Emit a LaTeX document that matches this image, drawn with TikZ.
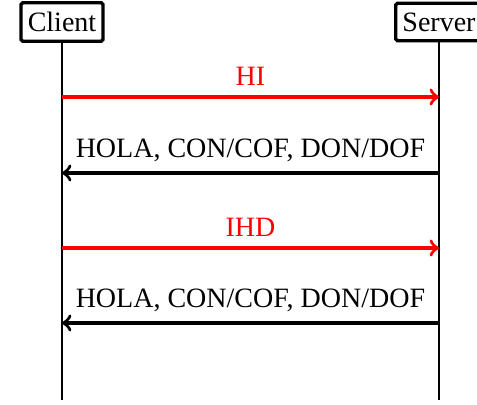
\documentclass[tikz,border=0pt]{standalone}
\usepackage{fontspec}
\setmainfont{Liberation Serif}

\begin{document}
\begin{tikzpicture}[x=0.357pt, y=-0.357pt,
    actor/.style={draw, very thick, rounded corners=0.6pt, inner xsep=2.4pt, minimum height=13.4pt},
    vida/.style={black, semithick},
    msg/.style={very thick, ->},
    etiq/.style={midway, above}]
    \useasboundingbox (0,0) rectangle (477,405);

    % Participantes
    \node[actor] (client) at (62,22) {Client};
    \node[actor] (server) at (439,22) {Server};

    % Líneas de vida
    \coordinate (clientfin) at (62,400);
    \coordinate (serverfin) at (439,400);
    \draw[vida] (client) -- (clientfin);
    \draw[vida] (server) -- (serverfin);

    % Puntos de los mensajes
    \coordinate (c1) at (62,97);  \coordinate (s1) at (439,97);
    \coordinate (c2) at (62,173); \coordinate (s2) at (439,173);
    \coordinate (c3) at (62,248); \coordinate (s3) at (439,248);
    \coordinate (c4) at (62,323); \coordinate (s4) at (439,323);

    % Mensajes
    \draw[msg, red] (c1) -- (s1) node[etiq]{HI};
    \draw[msg] (s2) -- (c2) node[etiq]{HOLA, CON/COF, DON/DOF};
    \draw[msg, red] (c3) -- (s3) node[etiq]{IHD};
    \draw[msg] (s4) -- (c4) node[etiq]{HOLA, CON/COF, DON/DOF};
\end{tikzpicture}
\end{document}
